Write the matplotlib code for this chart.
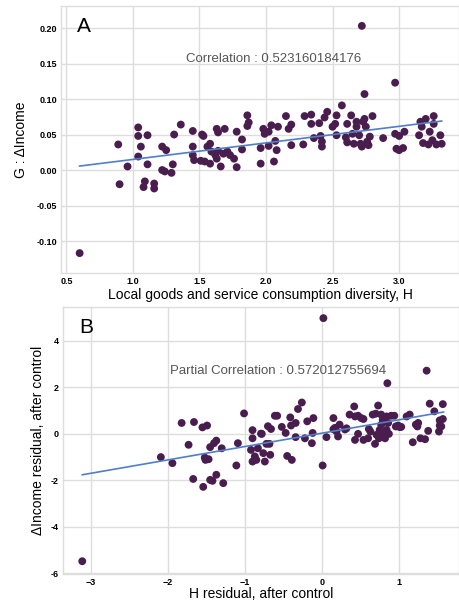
import matplotlib
matplotlib.use('Agg')
import matplotlib.pyplot as plt

plt.rcParams['font.family'] = ['Liberation Sans', 'DejaVu Sans']

# Panel A: H vs G (delta income)
h_values = [0.60, 0.89, 0.90, 0.96, 1.04, 1.04, 1.04, 1.06, 1.08, 1.09, 1.11, 1.11,
            1.16, 1.16, 1.22, 1.22, 1.24, 1.25, 1.29, 1.30, 1.31, 1.36, 1.45, 1.45,
            1.45, 1.46, 1.52, 1.53, 1.51, 1.54, 1.56, 1.58, 1.58, 1.59, 1.63, 1.64,
            1.62, 1.63, 1.64, 1.66, 1.69, 1.68, 1.71, 1.73, 1.76, 1.78, 1.78, 1.82,
            1.82, 1.86, 1.87, 1.86, 1.96, 1.96, 1.98, 1.99, 2.02, 2.02, 2.04, 2.06,
            2.07, 2.08, 2.09, 2.15, 2.17, 2.19, 2.19, 2.28, 2.29, 2.34, 2.34, 2.36,
            2.40, 2.41, 2.42, 2.42, 2.44, 2.46, 2.50, 2.53, 2.52, 2.53, 2.57, 2.60,
            2.61, 2.61, 2.64, 2.65, 2.66, 2.68, 2.68, 2.70, 2.71, 2.72, 2.73, 2.74,
            2.75, 2.76, 2.77, 2.78, 2.80, 2.88, 2.97, 2.98, 3.00, 3.00, 3.03, 3.04,
            3.15, 3.16, 3.17, 3.18, 3.20, 3.22, 3.23, 3.25, 3.26, 3.26, 3.28, 3.31,
            3.32, 2.72, 2.97, 2.74]
g_values = [-0.117, 0.036, -0.020, 0.005, 0.060, 0.048, 0.019, 0.033, -0.024, -0.016,
            0.049, 0.008, -0.019, -0.026, 0.033, 0.000, -0.002, 0.028, -0.004, 0.008,
            0.050, 0.064, 0.055, 0.033, 0.021, 0.014, 0.050, 0.048, 0.013, 0.012,
            0.033, 0.037, 0.009, 0.026, 0.058, 0.053, 0.021, 0.016, 0.027, 0.005,
            0.058, 0.023, 0.026, 0.021, 0.016, 0.054, 0.004, 0.043, 0.029, 0.077,
            0.067, 0.062, 0.009, 0.031, 0.058, 0.051, 0.054, 0.034, 0.063, 0.012,
            0.041, 0.028, 0.061, 0.076, 0.058, 0.064, 0.035, 0.036, 0.076, 0.078,
            0.065, 0.045, 0.066, 0.048, 0.040, 0.033, 0.074, 0.082, 0.061, 0.077,
            0.065, 0.049, 0.091, 0.046, 0.039, 0.065, 0.077, 0.051, 0.037, 0.061,
            0.068, 0.049, 0.037, 0.033, 0.068, 0.072, 0.061, 0.040, 0.035, 0.047,
            0.076, 0.045, 0.051, 0.030, 0.048, 0.028, 0.031, 0.054, 0.049, 0.068,
            0.061, 0.038, 0.072, 0.036, 0.054, 0.042, 0.076, 0.065, 0.036, 0.049,
            0.037, 0.203, 0.123, 0.107]
fit_a_x = [0.60, 3.32]
fit_a_y = [0.0056, 0.069]

# Panel B: residuals after control
h_resid = [0.02, 1.36, 0.85, -1.82, -1.66, -1.55, -1.49, -1.01, -0.90, -0.79, -0.70,
           -0.66, -0.61, -0.58, -0.52, -0.47, -0.41, -0.40, -0.34, -0.31, -0.26, -0.19,
           -0.11, -0.12, 0.15, 0.17, 0.19, 0.23, 0.30, 0.36, 0.42, 0.43, 0.47, 0.51,
           0.54, 0.61, 0.66, 0.70, 0.73, 0.77, 0.79, 0.84, 0.86, 0.90, 0.94, 0.99,
           1.03, 1.10, 1.14, 1.22, 1.25, 1.40, 1.46, 1.57, 1.53, 1.57, 1.53,
           -3.11, -2.09, -1.94, -1.73, -1.67, -1.54, -1.52, -1.51, -1.47, -1.45, -1.45,
           -1.42, -1.40, -1.37, -1.37, -1.30, -1.28, -1.11, -1.09, -0.92, -0.90, -0.90,
           -0.87, -0.85, -0.83, -0.78, -0.76, -0.74, -0.72, -0.67, -0.68, -0.45, -0.39,
           -0.34, -0.22, -0.13, 0.01, 0.06, 0.15, 0.21, 0.32, 0.43, 0.47, 0.54, 0.60,
           0.63, 0.69, 0.71, 0.74, 0.75, 0.77, 0.79, 0.82, 0.84, 0.87, 0.96, 1.01,
           1.18, 1.24, 1.28, 1.34, 1.38, 1.52, 1.55]
g_resid = [4.98, 2.72, 2.18, 0.47, 0.51, 0.28, 0.36, 0.88, 0.16, 0.01, 0.33, 0.21,
           0.78, 0.78, 0.30, 0.04, 0.71, 0.36, 0.47, 1.07, 1.35, 0.54, 0.68, 0.04,
           0.68, 0.26, 0.11, 0.40, 0.19, 0.83, 1.18, 0.75, 0.78, 0.68, 0.64, 0.21,
           0.83, 0.87, 1.22, 0.83, 0.61, 0.75, 0.47, 0.78, 0.78, 0.36, 0.30, 0.75,
           0.83, 0.40, 0.47, 1.30, 0.97, 1.28, 0.58, 0.64, 0.36,
           -5.48, -1.00, -1.26, -0.47, -1.94, -2.28, -1.02, -1.12, -1.09, -0.57, -1.98,
           -2.02, -0.40, -0.29, -1.76, -0.62, -2.12, -1.36, -0.40, -0.69, -0.19, -1.19,
           -0.97, -1.12, -0.62, 0.00, -0.83, -1.19, -0.43, -0.90, -0.43, -0.95, -1.12,
           -0.14, -0.19, -0.40, -1.36, -0.14, 0.20, -0.11, 0.24, -0.26, 0.00, -0.26,
           -0.19, 0.10, -0.43, -0.04, -0.19, 0.17, 0.39, 0.03, -0.19, 0.17, 0.00, 0.32,
           0.29, -0.36, 0.32, -0.19, -0.23, 0.13, 0.10, 0.32]
fit_b_x = [-3.11, 1.58]
fit_b_y = [-1.76, 0.94]

dot_color = '#4a1d4f'
line_color = '#4f7fc8'
grid_color = '#dddddd'

fig = plt.figure(figsize=(4.59, 6.03), dpi=100)
ax1 = fig.add_axes([61/459, 1 - 273/603, 1 - 61/459, 267/603])
ax2 = fig.add_axes([63/459, 1 - 574/603, 1 - 63/459, 267/603])


def style(ax):
    ax.set_facecolor('white')
    ax.grid(True, color=grid_color, linewidth=1.0)
    ax.set_axisbelow(True)
    for s in ax.spines.values():
        s.set_color(grid_color)
        s.set_linewidth(1.0)
    ax.tick_params(length=0, labelsize=6.5, pad=3)
    for lab in ax.get_xticklabels() + ax.get_yticklabels():
        lab.set_fontweight('bold')


# Panel A
ax1.scatter(h_values, g_values, s=32, color=dot_color, edgecolors='none', zorder=3)
ax1.plot(fit_a_x, fit_a_y, color=line_color, linewidth=1.2, zorder=4)
ax1.set_xlim(0.46, 3.45)
ax1.set_ylim(-0.145, 0.231)
ax1.set_xticks([0.5, 1.0, 1.5, 2.0, 2.5, 3.0])
ax1.set_yticks([-0.10, -0.05, 0.00, 0.05, 0.10, 0.15, 0.20])
ax1.set_yticklabels(['-0.10', '-0.05', '0.00', '0.05', '0.10', '0.15', '0.20'])
style(ax1)
ax1.set_xlabel('Local goods and service consumption diversity, H', fontsize=10, labelpad=1)
ax1.set_ylabel('G : ΔIncome', fontsize=10, labelpad=6)
ax1.text(2.06, 0.157, 'Correlation : 0.523160184176', fontsize=9.5, color='#555555',
         ha='center', va='center')
ax1.text(0.04, 0.96, 'A', transform=ax1.transAxes, fontsize=15, ha='left', va='top')

# Panel B
ax2.scatter(h_resid, g_resid, s=32, color=dot_color, edgecolors='none', zorder=3)
ax2.plot(fit_b_x, fit_b_y, color=line_color, linewidth=1.2, zorder=4)
ax2.set_xlim(-3.36, 1.78)
ax2.set_ylim(-6.03, 5.46)
ax2.set_xticks([-3, -2, -1, 0, 1])
ax2.set_yticks([-6, -4, -2, 0, 2, 4])
ax2.set_xticklabels(['\u22123', '\u22122', '\u22121', '0', '1'])
ax2.set_yticklabels(['-6', '-4', '-2', '0', '2', '4'])
style(ax2)
ax2.set_xlabel('H residual, after control', fontsize=10, labelpad=0)
ax2.set_ylabel('ΔIncome residual, after control', fontsize=10, labelpad=4)
ax2.text(-0.57, 2.71, 'Partial Correlation : 0.572012755694', fontsize=9.5, color='#555555',
         ha='center', va='center')
ax2.text(0.04, 0.96, 'B', transform=ax2.transAxes, fontsize=15, ha='left', va='top')

fig.savefig('out.png', dpi=100)
